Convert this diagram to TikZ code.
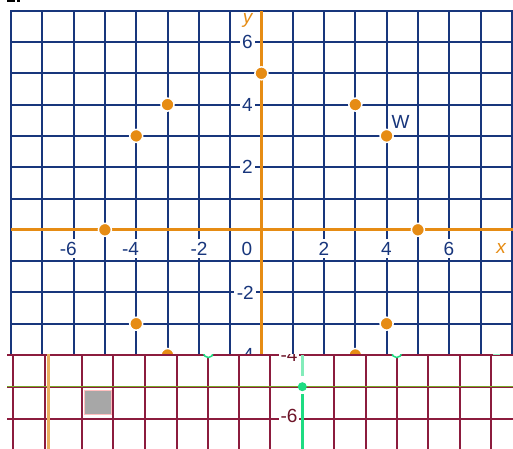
\documentclass[tikz,border=0pt]{standalone}
\usepackage{fontspec}
\setmainfont{Liberation Sans}
\definecolor{gridnavy}{RGB}{24,54,124}
\definecolor{axisorange}{RGB}{230,140,20}
\definecolor{stripmaroon}{RGB}{140,28,62}
\definecolor{stripolive}{RGB}{120,165,40}
\definecolor{mintgreen}{RGB}{30,220,130}
\definecolor{striptan}{RGB}{232,175,95}
\definecolor{labelmaroon}{RGB}{110,20,40}
\newcommand\lblfont{\fontsize{19}{19}\selectfont}
\begin{document}
\begin{tikzpicture}[x=1pt,y=-1pt,
  gridline/.style={draw=gridnavy,line width=2pt,line cap=rect},
  axisline/.style={draw=axisorange,line width=3pt},
  ticklbl/.style={fill=white,inner sep=2.5pt,text=gridnavy,font=\lblfont},
  axislbl/.style={inner sep=1pt,text=axisorange,font=\lblfont\itshape},
  dotpt/.style={circle,fill=axisorange,draw=white,line width=1.5pt,minimum size=13pt,inner sep=0pt},
  maroonline/.style={draw=stripmaroon,line width=2pt},
  stripl/.style={fill=white,inner sep=2pt,text=labelmaroon,font=\lblfont}]
\useasboundingbox (0,0) rectangle (513,448);
\clip (0,0) rectangle (513,448);
\fill[white] (0,0) rectangle (513,448);
% sliver of a cut-off heading at the top-left edge
\fill[black] (7,0) rectangle (15,1.8);
\fill[black] (17,0) rectangle (19.5,1.5);
% ---------- upper part: coordinate grid ----------
\begin{scope}
\clip (0,0) rectangle (513,354);
\begin{scope}[shift={(261.4,229.8)},x=31.3pt,y=31.3pt]
  \foreach \i in {-8,...,8} \draw[gridline] (\i,7) -- (\i,-4.5);
  \foreach \j in {-4,...,7} \draw[gridline] (-8,\j) -- (8.5,\j);
  \draw[axisline] (0,7) -- (0,-4.5);
  \draw[axisline] (-8,0) -- (8.5,0);
\end{scope}
% y labels
\node[ticklbl,anchor=east] (y6) at (255.5,42) {6};
\node[ticklbl,anchor=east] (y4) at (255.5,105) {4};
\node[ticklbl,anchor=east] (y2) at (255.5,167.3) {2};
\node[ticklbl,anchor=east] (ym2) at (256.5,292.7) {-2};
\node[ticklbl,anchor=east] (ym4) at (256.5,355) {-4};
% x labels
\node[ticklbl] (xm6) at (68.3,248.5) {-6};
\node[ticklbl] (xm4) at (130.5,248.5) {-4};
\node[ticklbl] (xm2) at (199,248.5) {-2};
\node[ticklbl] (x0) at (247,248.5) {0};
\node[ticklbl] (x2) at (324,248.5) {2};
\node[ticklbl] (x4) at (386.5,248.5) {4};
\node[ticklbl] (x6) at (449,248.5) {6};
\node[axislbl] (xl) at (501,248.5) {x};
\node[axislbl] (yl) at (247.5,20) {y};
\node[text=gridnavy,font=\lblfont,inner sep=0pt] (wl) at (400.5,121.5) {W};
\begin{scope}[shift={(261.4,229.8)},x=31.3pt,y=31.3pt]
  \node[dotpt] (p1) at (-4,3) {};
  \node[dotpt] (p2) at (-3,4) {};
  \node[dotpt] (p3) at (0,5) {};
  \node[dotpt] (p4) at (3,4) {};
  \node[dotpt] (p5) at (4,3) {};
  \node[dotpt] (p6) at (-5,0) {};
  \node[dotpt] (p7) at (5,0) {};
  \node[dotpt] (p8) at (-4,-3) {};
  \node[dotpt] (p9) at (4,-3) {};
  \node[dotpt] (p10) at (-3,-4) {};
  \node[dotpt] (p11) at (3,-4) {};
\end{scope}
\end{scope}
% ---------- lower strip ----------
\begin{scope}
\clip (0,354) rectangle (513,448);
\fill[white] (0,354) rectangle (513,448);
\foreach \xx in {13.3,45,81.7,113.3,145,176.7,208.3,239.3,270.3,334,365.7,396.7,428.3,459.7,491.3}
  \draw[maroonline] (\xx,355) -- (\xx,450);
\draw[maroonline] (7,355) -- (515,355);
\draw[maroonline] (7,419) -- (515,419);
\draw[draw=stripmaroon,line width=1.2pt] (7,387.8) -- (515,387.8);
\draw[draw=stripolive,line width=1.8pt] (7,386.5) -- (515,386.5);
\draw[draw=striptan,line width=2.8pt] (48.2,354) -- (48.2,450);
\fill[gray!85!black!60] (84.5,390) rectangle (111.7,414);
\draw[draw=pink,line width=0.8pt] (84.5,390) rectangle (111.7,414);
\node[circle,draw=mintgreen,fill=white,line width=1.5pt,minimum size=10pt,inner sep=0pt] (g1) at (208.3,352.5) {};
\node[circle,draw=mintgreen,fill=white,line width=1.5pt,minimum size=10pt,inner sep=0pt] (g2) at (396.7,352.5) {};
\draw[draw=mintgreen!50,line width=1.5pt] (493,354.5) -- (500,354.5);
\node[stripl] (sm4) at (289,355) {-4};
\node[stripl] (sm6) at (289,415.5) {-6};
\coordinate (gt) at (302.3,355);
\coordinate (gb) at (302.3,450);
\node[circle,fill=mintgreen,minimum size=9pt,inner sep=0pt] (gd) at (302.3,386.7) {};
\draw[draw=mintgreen!55,line width=2.5pt] (gt) -- ([yshift=6pt]gd.north);
\draw[draw=mintgreen,line width=3pt] ([yshift=-3pt]gd.south) -- (gb);
\end{scope}
\end{tikzpicture}
\end{document}
